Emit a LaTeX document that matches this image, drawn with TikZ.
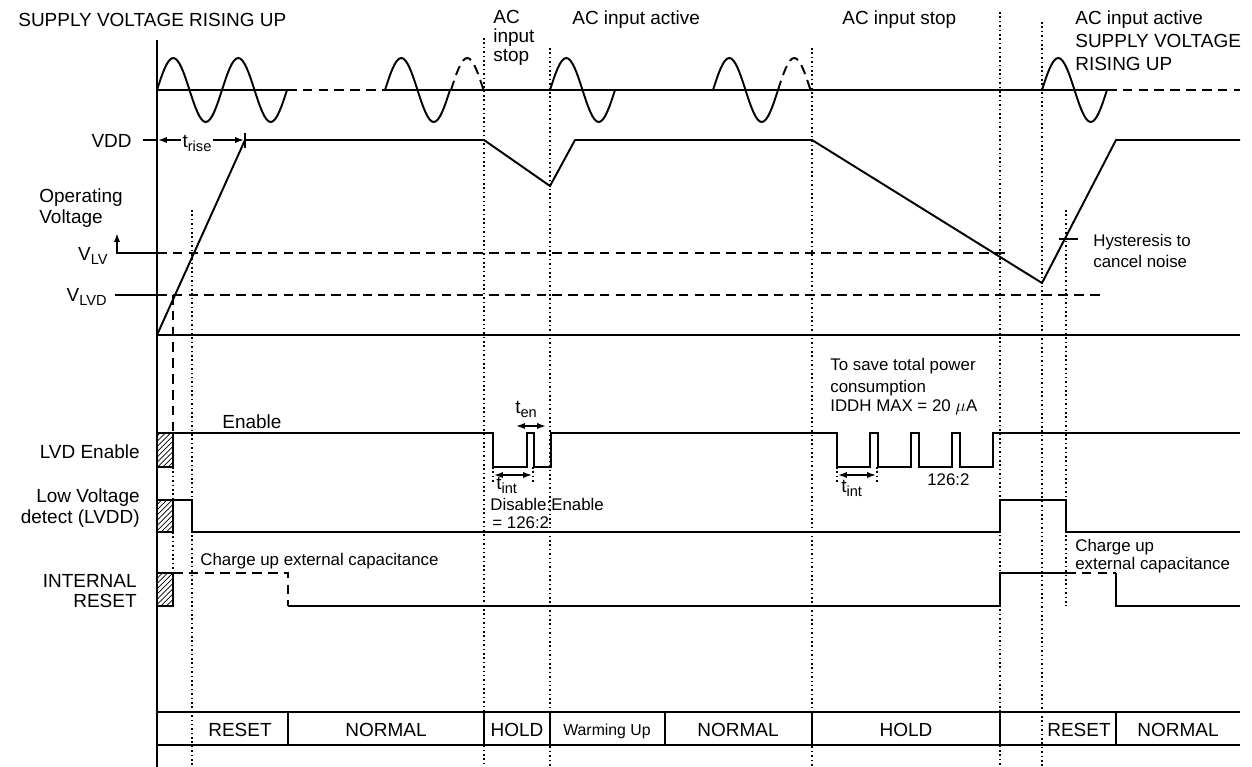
\documentclass[tikz,border=0pt]{standalone}
\usepackage{fontspec}
\setmainfont{Liberation Sans}
\usepackage{tikz}
\usetikzlibrary{arrows.meta, patterns, calc}

\newcommand{\lowsub}[1]{\raisebox{-0.4ex}{\fontsize{8.3}{10}\selectfont #1}}

\tikzset{
  sig/.style={line width=1.1pt},
  dashsig/.style={line width=1.1pt, dash pattern=on 5.5pt off 3.5pt},
  guide/.style={line width=0.9pt, dash pattern=on 0.9pt off 1.6pt},
  hatchbox/.style={draw, line width=0.8pt, pattern=north east lines},
  dimarrow/.style={line width=0.9pt, {Latex[length=5pt,width=3.5pt]}-{Latex[length=5pt,width=3.5pt]}},
  lbl/.style={font=\fontsize{10.8}{12}\selectfont, inner sep=0pt},
  small/.style={font=\fontsize{9.6}{11}\selectfont, inner sep=0pt},
}

\begin{document}
\begin{tikzpicture}[x=0.02cm, y=-0.02cm]
\useasboundingbox (0,0) rectangle (1252,767);
% Levels (pixel rows)
\def\vdd{140}
\def\vlv{253}
\def\vlvd{295}
\def\gnd{335}

% Time axis
\draw[sig] (157,40) -- (157,767);

% Phase headings
\node[lbl, anchor=base west] (supply) at (18,27) {SUPPLY VOLTAGE RISING UP};
\node[lbl, anchor=base west] (stopa) at (493,24) {AC};
\node[lbl, anchor=base west] (stopb) at (493,43) {input};
\node[lbl, anchor=base west] (stopc) at (493,62) {stop};
\node[lbl, anchor=base west] (active1) at (572,25) {AC input active};
\node[lbl, anchor=base west] (stop2) at (842,25) {AC input stop};
\node[lbl, anchor=base west] (active2a) at (1075,25) {AC input active};
\node[lbl, anchor=base west] (active2b) at (1075,48) {SUPPLY VOLTAGE};
\node[lbl, anchor=base west] (active2c) at (1075,71) {RISING UP};

% AC input
\draw[sig] (157,90) -- (287,90);
\draw[dashsig] (287,90) -- (385,90);
\draw[sig] (385,90) -- (1107,90);
\draw[dashsig] (1107,90) -- (1240,90);
\foreach \s in {157,222,385,550,713,1042}
  \draw[sig] (\s,90) sin ++(16.25,-32) cos ++(16.25,32) sin ++(16.25,32) cos ++(16.25,-32);
\foreach \s in {451,778}
  \draw[dashsig] (\s,90) sin ++(16.25,-32) cos ++(16.25,32);

% Event markers
\draw[guide] (192,210) -- (192,767);
\draw[guide] (484,38) -- (484,767);
\draw[guide] (550,48) -- (550,767);
\draw[guide] (812,48) -- (812,767);
\draw[guide] (1000,12) -- (1000,767);
\draw[guide] (1042,22) -- (1042,767);
\draw[guide] (1066,210) -- (1066,606);
\draw[dashsig] (173,\vlvd) -- (173,433);
\draw[guide] (173,467) -- (173,500);
\draw[guide] (173,532) -- (173,573);

% Operating voltage
\node[lbl, anchor=base east] (vddlbl) at (132,148) {VDD};
\node[lbl, anchor=base west] (oplbla) at (39,203) {Operating};
\node[lbl, anchor=base west] (oplblb) at (39,223) {Voltage};
\node[lbl, anchor=base east] (vlvlbl) at (108,260) {V\lowsub{LV}};
\node[lbl, anchor=base east] (vlvdlbl) at (107,301) {V\lowsub{LVD}};
\draw[sig] (143,\vdd) -- (157,\vdd);
\draw[sig] (245,133) -- (245,148);
\draw[dimarrow] (158,\vdd) -- (244,\vdd);
\node[lbl, fill=white, inner sep=1pt] (trise) at (197,143) {t\lowsub{rise}};
\draw[sig, -{Latex[length=5pt,width=3.5pt]}] (157,\vlv) -- (117,\vlv) -- (117,233);
\draw[sig] (115,\vlvd) -- (157,\vlvd);
\draw[dashsig] (157,\vlv) -- (1010,\vlv);
\draw[dashsig] (157,\vlvd) -- (1100,\vlvd);
\draw[sig] (157,\gnd) -- (1240,\gnd);
\draw[sig] (157,\gnd) -- (245,\vdd) -- (484,\vdd) -- (550,186) -- (575,\vdd)
  -- (812,\vdd) -- (1042,283) -- (1116,\vdd) -- (1240,\vdd);
\draw[sig] (1059,239) -- (1078,239);
\node[small, anchor=base west] (hysta) at (1093,247) {Hysteresis to};
\node[small, anchor=base west] (hystb) at (1093,267) {cancel noise};

% LVD Enable
\node[lbl, anchor=base east] (lvdlbl) at (140,458) {LVD Enable};
\draw[hatchbox] (157,433) rectangle (173,467);
\draw[sig] (173,433) -- (493,433) |- (527,467) |- (534,433) |- (551,467) |- (837,433)
  |- (870,467) |- (878,433) |- (911,467) |- (919,433) |- (952,467) |- (960,433)
  |- (993,467) |- (1240,433);
\node[lbl, anchor=base west] (enlbl) at (222,428) {Enable};
\draw[dimarrow] (516,426) -- (546,426);
\node[lbl, anchor=base west] (ten) at (515,413) {t\lowsub{en}};
\draw[guide] (493,467) -- (493,482);
\draw[guide] (533,467) -- (533,484);
\draw[dimarrow] (494,475) -- (532,475);
\node[lbl, anchor=base west] (tint1) at (496,489) {t\lowsub{int}};
\node[small, anchor=base west] (ratioa) at (490,510) {Disable:Enable};
\node[small, anchor=base west] (ratiob) at (492,528) {= 126:2};
\node[small, anchor=base west] (savea) at (830,370) {To save total power};
\node[small, anchor=base west] (saveb) at (830,392) {consumption};
\node[small, anchor=base west] (savec) at (830,411) {IDDH MAX = 20 $\mu$A};
\draw[guide] (837,467) -- (837,484);
\draw[guide] (877,467) -- (877,484);
\draw[dimarrow] (838,475) -- (876,475);
\node[lbl, anchor=base west] (tint2) at (841,492) {t\lowsub{int}};
\node[small, anchor=base west] (ratioc) at (927,485) {126:2};

% Low voltage detect
\node[lbl, anchor=base east] (lvddlbla) at (140,502) {Low Voltage};
\node[lbl, anchor=base east] (lvddlblb) at (140,523) {detect (LVDD)};
\draw[hatchbox] (157,500) rectangle (173,532);
\draw[sig] (173,500) -- (192,500) |- (1000,532) |- (1066,500) |- (1240,532);

% Internal reset
\node[lbl, anchor=base east] (rstlbla) at (137,587) {INTERNAL};
\node[lbl, anchor=base east] (rstlblb) at (137,607) {RESET};
\draw[hatchbox] (157,573) rectangle (173,606);
\draw[dashsig] (173,573) -- (288,573) -- (288,606);
\draw[sig] (288,606) -- (1000,606) |- (1066,573);
\draw[dashsig] (1066,573) -- (1116,573);
\draw[sig] (1116,573) -- (1116,606) -- (1240,606);
\node[small, anchor=base west] (chg1) at (200,565) {Charge up external capacitance};
\node[small, anchor=base west] (chg2a) at (1075,551) {Charge up};
\node[small, anchor=base west] (chg2b) at (1075,569) {external capacitance};

% Operating mode
\draw[sig] (157,712) -- (1240,712);
\draw[sig] (157,745) -- (1240,745);
\foreach \x in {288,484,550,665,812,1000,1116}
  \draw[line width=0.9pt] (\x,712) -- (\x,745);
\foreach \x/\t in {240/RESET, 386/NORMAL, 517/HOLD, 738/NORMAL, 906/HOLD, 1079/RESET, 1178/NORMAL}
  \node[lbl, anchor=base] (mode\x) at (\x,736) {\t};
\node[font=\fontsize{9}{10}\selectfont, inner sep=0pt, anchor=base] (warm) at (607,735) {Warming Up};

\end{tikzpicture}
\end{document}
